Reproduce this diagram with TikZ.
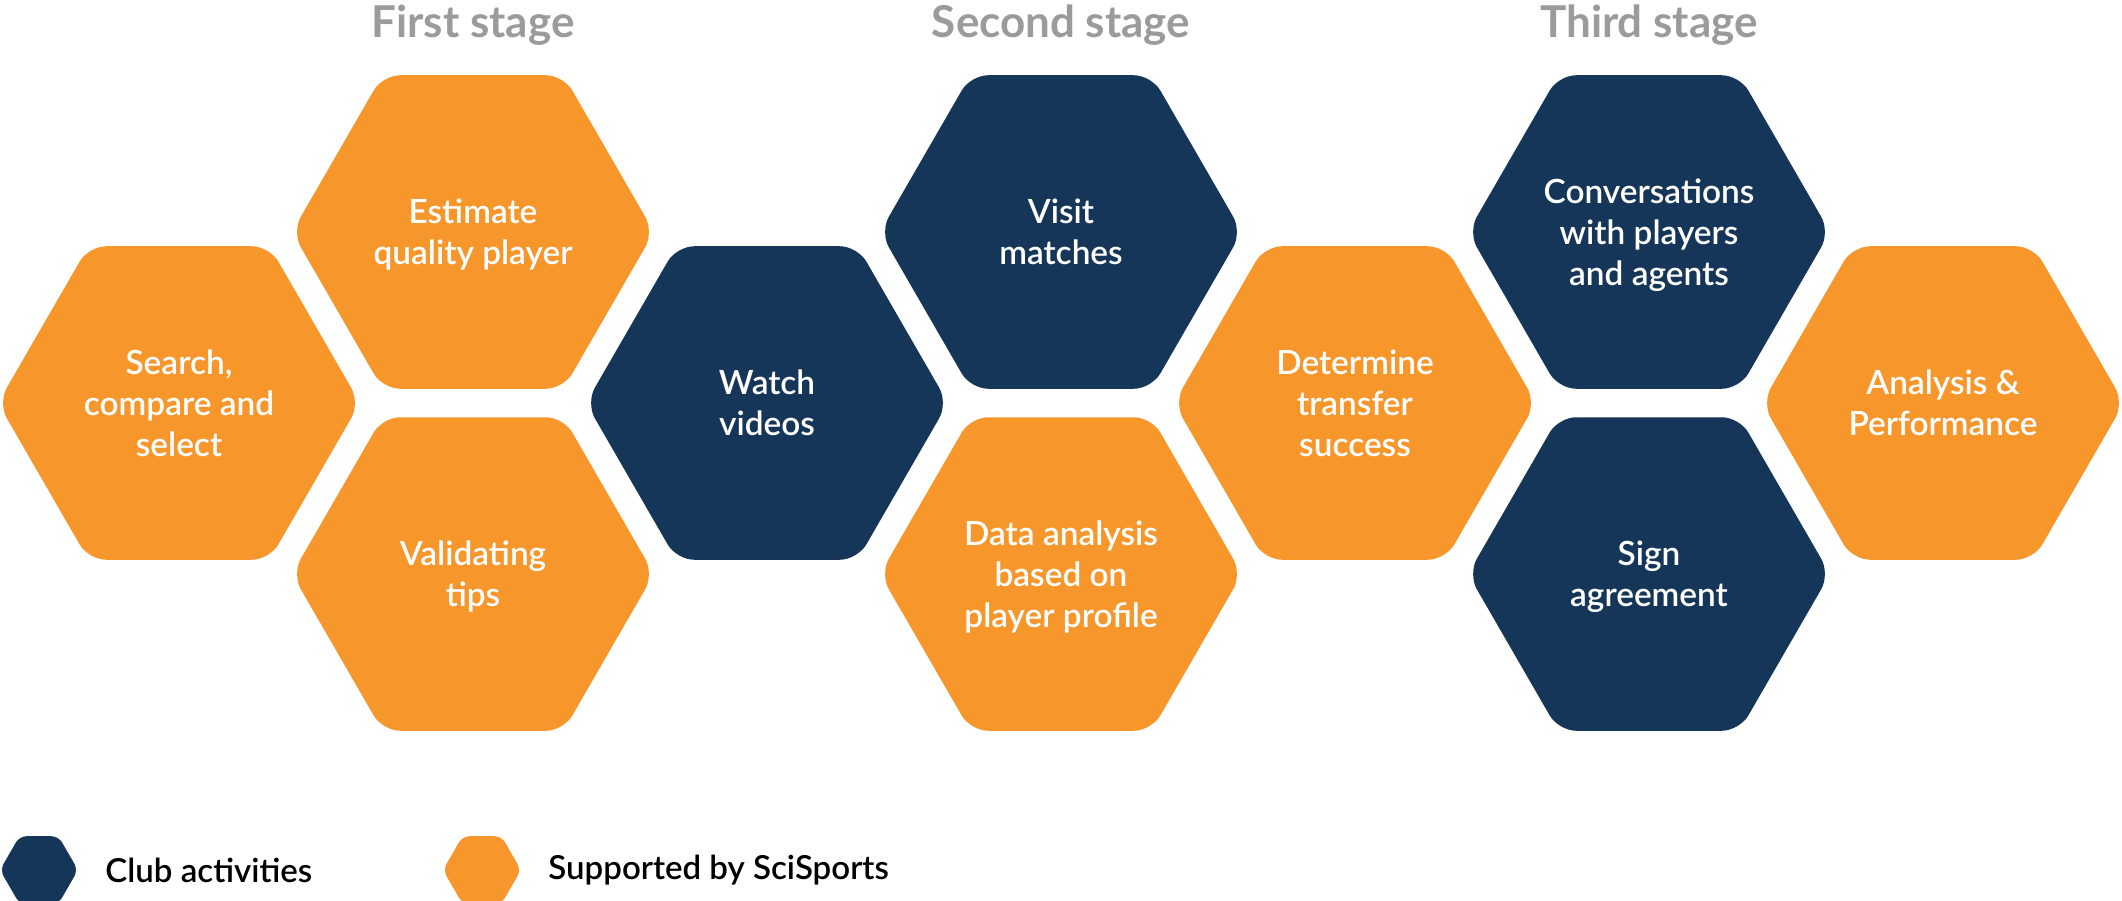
\documentclass[tikz,border=0pt]{standalone}
\usepackage{fontspec}
\setmainfont{Lato}
\newfontfamily\hexfont{Lato Semibold}
\usetikzlibrary{shapes.geometric}

\definecolor{sciorange}{HTML}{F7962B}
\definecolor{scinavy}{HTML}{153559}
\definecolor{stagegray}{HTML}{9B9B9B}

\tikzset{
  hex/.style={regular polygon, regular polygon sides=6, minimum size=3.62cm,
    inner sep=0pt, rounded corners=5pt, align=center, text=white,
    font=\hexfont\fontsize{9.5pt}{11.6pt}\selectfont, text depth=-7pt},
  club/.style={hex, fill=scinavy},
  sci/.style={hex, fill=sciorange},
  key/.style={minimum size=0.78cm, rounded corners=2pt, text depth=0pt},
}

\begin{document}
\begin{tikzpicture}
\useasboundingbox (0,0) rectangle (21.22,-9.01);

% Stage titles
\begin{scope}[every node/.style={font=\fontsize{12.5pt}{14pt}\selectfont\bfseries, text=stagegray, anchor=base}]
\path
(4.73,-0.38) node (first) {First stage}
(10.61,-0.38) node (second) {Second stage}
(16.49,-0.38) node (third) {Third stage}
;
\end{scope}

% Define nodes
\path
(1.79,-4.03) node[sci] (search) {Search,\\compare and\\select}
(4.73,-2.32) node[sci] (estimate) {Estimate\\quality player}
(4.73,-5.74) node[sci] (validate) {Validating\\tips}
(7.67,-4.03) node[club] (watch) {Watch\\videos}
(10.61,-2.32) node[club] (visit) {Visit\\matches}
(10.61,-5.74) node[sci] (data) {Data analysis\\based on\\player profile}
(13.55,-4.03) node[sci] (transfer) {Determine\\transfer\\success}
(16.49,-2.32) node[club] (talk) {Conversations\\with players\\and agents}
(16.49,-5.74) node[club] (sign) {Sign\\agreement}
(19.43,-4.03) node[sci] (analysis) {Analysis \&\\Performance}
;

% Legend
\path[font=\hexfont\fontsize{9.4pt}{11pt}\selectfont]
(0.39,-8.70) node[club, key] (clubkey) {}
(clubkey) +(0:0.54) node[anchor=west] (clublabel) {Club activities}
(4.82,-8.70) node[sci, key] (scikey) {}
(scikey) +(0:0.54) node[anchor=west] (scilabel) {Supported by SciSports}
;

\end{tikzpicture}
\end{document}
